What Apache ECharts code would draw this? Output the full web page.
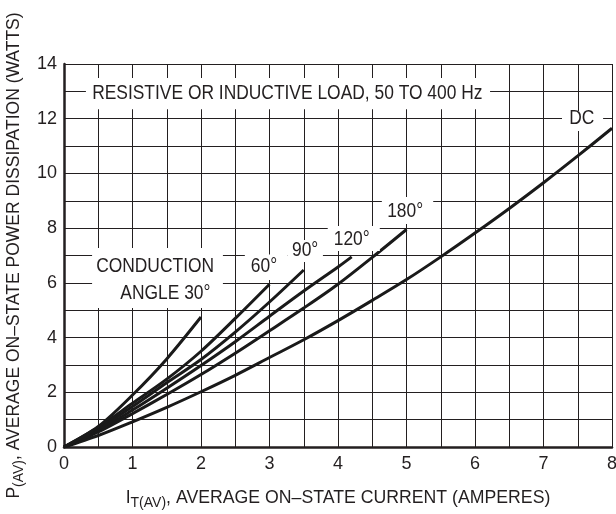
<!DOCTYPE html>
<html><head><meta charset="utf-8">
<script src="https://cdn.jsdelivr.net/npm/echarts@6/dist/echarts.min.js"></script>
<style>html,body{margin:0;padding:0;background:#fff}#c{width:616px;height:514px}</style>
</head><body><div id="c"></div>
<script>
// Data (I_T(AV) in amperes, P(AV) in watts)
const ampsDC   = [0,0.5,1,1.5,2,2.5,3,3.5,4,4.5,5,5.5,6,6.5,7,7.5,8];
const wattsDC  = [0,0.42,0.92,1.45,2.02,2.62,3.27,3.92,4.62,5.36,6.12,6.95,7.82,8.72,9.66,10.64,11.65];
const amps180  = [0,0.5,1,1.5,2,2.5,3,3.5,4,4.5,5];
const watts180 = [0,0.55,1.22,1.92,2.65,3.43,4.25,5.08,5.95,6.93,7.95];
const amps120  = [0,0.5,1,1.5,2,2.5,3,3.5,4,4.2];
const watts120 = [0,0.6,1.35,2.15,2.98,3.85,4.78,5.7,6.58,6.95];
const amps90   = [0,0.5,1,1.5,2,2.5,3,3.5];
const watts90  = [0,0.65,1.48,2.35,3.2,4.2,5.3,6.47];
const amps60   = [0,0.5,1,1.5,2,2.5,3];
const watts60  = [0,0.72,1.6,2.48,3.5,4.7,5.95];
const amps30   = [0,0.5,1,1.5,2];
const watts30  = [0,0.75,1.9,3.22,4.75];

const xTicks = [0,1,2,3,4,5,6,7,8];
const yTicks = [0,2,4,6,8,10,12,14];

const labelTexts = ['RESISTIVE OR INDUCTIVE LOAD, 50 TO 400 Hz','DC','180°','120°','90°','60°','CONDUCTION','ANGLE 30°'];
const labelAmps  = [3.26, 7.56, 4.98, 4.2, 3.52, 2.92, 1.33, 1.48];
const labelWatts = [12.94, 12.0, 8.62, 7.6, 7.18, 6.6, 6.6, 5.62];
// white label boxes that interrupt the grid: [amps0, watts0, amps1, watts1]
const boxCorners = [
  [0.32,13.49,6.22,12.35],
  [7.27,12.28,7.87,11.55],
  [4.64,9.14,5.39,8.15],
  [3.85,8.08,4.61,7.16],
  [3.26,7.57,3.78,6.76],
  [2.64,7.04,3.26,6.10],
  [0.41,7.27,2.32,5.08]
];

const FONT = "'Liberation Sans',Arial,sans-serif";
const INK = '#231f20';

function pairs(xs, ys){ return xs.map((x,i)=>[x, ys[i]]); }
const curves = [
  ['DC', ampsDC, wattsDC], ['180°', amps180, watts180], ['120°', amps120, watts120],
  ['90°', amps90, watts90], ['60°', amps60, watts60], ['30°', amps30, watts30]
];

const chart = echarts.init(document.getElementById('c'), null, {renderer:'canvas'});
chart.setOption({
  animation:false,
  backgroundColor:'#fff',
  grid:{left:64, right:4, top:64, bottom:67, containLabel:false, outerBoundsMode:'none'},
  xAxis:{
    type:'value', min:0, max:8, interval:0.5,
    axisLine:{show:true, onZero:false, lineStyle:{color:INK, width:2.5}},
    axisTick:{show:false},
    splitLine:{show:true, lineStyle:{color:INK, width:1}},
    axisLabel:{color:INK, fontFamily:FONT, fontSize:18, margin:8,
      formatter:v=> xTicks.indexOf(v)>=0 ? String(v) : ''},
    name:'{n|I}{s|T(AV)}{n|, AVERAGE ON–STATE CURRENT (AMPERES)}',
    nameLocation:'middle', nameGap:39,
    nameTextStyle:{color:INK, fontFamily:FONT, fontSize:17.7,
      rich:{n:{fontFamily:FONT, fontSize:17.7, color:INK},
            s:{fontFamily:FONT, fontSize:14, color:INK, padding:[10,0,0,0]}}}
  },
  yAxis:{
    type:'value', min:0, max:14, interval:1,
    axisLine:{show:true, lineStyle:{color:INK, width:2.5}},
    axisTick:{show:false},
    splitLine:{show:true, lineStyle:{color:INK, width:1}},
    axisLabel:{color:INK, fontFamily:FONT, fontSize:18, margin:7,
      formatter:v=> yTicks.indexOf(v)>=0 ? String(v) : ''},
    name:'{n|P}{s|(AV)}{n|, AVERAGE ON–STATE POWER DISSIPATION (WATTS)}',
    nameLocation:'middle', nameGap:38, nameRotate:90,
    nameTextStyle:{color:INK, fontFamily:FONT, fontSize:17.5,
      rich:{n:{fontFamily:FONT, fontSize:17.5, color:INK},
            s:{fontFamily:FONT, fontSize:14, color:INK, padding:[10,0,0,0]}}}
  },
  series: curves.map(c=>({
    name:c[0], type:'line', data:pairs(c[1], c[2]), smooth:0.3,
    showSymbol:false, symbol:'none',
    lineStyle:{color:'#1a1a1a', width:3}, z:5
  }))
});

function buildGraphics(){
  const els = [];
  boxCorners.forEach(b=>{
    const p0 = chart.convertToPixel({gridIndex:0}, [b[0], b[1]]);
    const p1 = chart.convertToPixel({gridIndex:0}, [b[2], b[3]]);
    els.push({type:'rect', z:100, silent:true,
      shape:{x:Math.min(p0[0],p1[0]), y:Math.min(p0[1],p1[1]),
             width:Math.abs(p1[0]-p0[0]), height:Math.abs(p1[1]-p0[1])},
      style:{fill:'#fff'}});
  });
  labelTexts.forEach((t,i)=>{
    const p = chart.convertToPixel({gridIndex:0}, [labelAmps[i], labelWatts[i]]);
    els.push({type:'text', z:101, silent:true, x:p[0], y:p[1], scaleX:0.87, scaleY:1,
      style:{text:t, fill:INK, font:'20px ' + FONT, align:'center', verticalAlign:'middle',
             textAlign:'center', textVerticalAlign:'middle'}});
  });
  chart.setOption({graphic:{elements:els}});
}
buildGraphics();
</script>
</body></html>
